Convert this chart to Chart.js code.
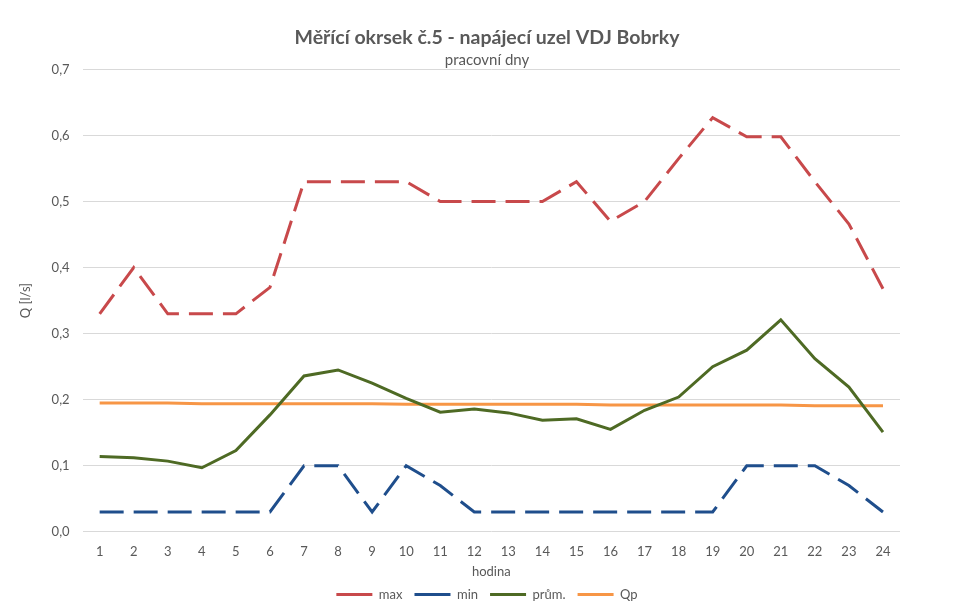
<!DOCTYPE html>
<html>
<head>
<meta charset="utf-8">
<script src="https://cdn.jsdelivr.net/npm/chart.js@4"></script>
<style>
    html, body { margin: 0; padding: 0; background: #fff; }
    #wrap { width: 960px; height: 609px; }
</style>
</head>
<body>
<div id="wrap"><canvas id="chart"></canvas></div>
<script>
(function () {
    "use strict";

    // Data
    const hours = ["1", "2", "3", "4", "5", "6", "7", "8", "9", "10", "11", "12",
        "13", "14", "15", "16", "17", "18", "19", "20", "21", "22", "23", "24"];
    const maxValues = [0.33, 0.40, 0.33, 0.33, 0.33, 0.37, 0.53, 0.53, 0.53, 0.53, 0.50, 0.50,
        0.50, 0.50, 0.53, 0.47, 0.50, 0.565, 0.627, 0.598, 0.598, 0.53, 0.466, 0.368];
    const minValues = [0.03, 0.03, 0.03, 0.03, 0.03, 0.03, 0.10, 0.10, 0.03, 0.10, 0.07, 0.03,
        0.03, 0.03, 0.03, 0.03, 0.03, 0.03, 0.03, 0.10, 0.10, 0.10, 0.07, 0.03];
    const avgValues = [0.114, 0.112, 0.107, 0.097, 0.123, 0.177, 0.236, 0.245, 0.225, 0.202, 0.181, 0.186,
        0.180, 0.169, 0.171, 0.155, 0.184, 0.204, 0.250, 0.275, 0.321, 0.262, 0.219, 0.151];
    const qpValues = [0.195, 0.195, 0.195, 0.194, 0.194, 0.194, 0.194, 0.194, 0.194, 0.193, 0.193, 0.193,
        0.193, 0.193, 0.193, 0.192, 0.192, 0.192, 0.192, 0.192, 0.192, 0.191, 0.191, 0.191];

    const textColor = "#595959";
    const font = "Lato, 'Open Sans', sans-serif";

    const line = (label, data, color, dash) => ({
        label: label,
        data: data,
        borderColor: color,
        backgroundColor: color,
        borderWidth: 3,
        borderDash: dash,
        pointRadius: 0,
        tension: 0,
        fill: false,
    });

    const ctx = document.getElementById("chart").getContext("2d");
    new Chart(ctx, {
        type: "line",
        data: {
            labels: hours,
            datasets: [
                line("max", maxValues, "#c8494b", [24, 10]),
                line("min", minValues, "#1f4e8c", [24, 10]),
                line("prům.", avgValues, "#4e6a24", []),
                line("Qp", qpValues, "#f79646", []),
            ],
        },
        options: {
            responsive: true,
            maintainAspectRatio: false,
            animation: false,
            layout: {
                padding: { top: 20, left: 14, right: 0, bottom: -2 },
            },
            plugins: {
                title: {
                    display: true,
                    text: "Měřící okrsek č.5 - napájecí uzel VDJ Bobrky",
                    color: textColor,
                    font: { family: font, size: 19.5, weight: "bold" },
                    padding: { top: 6, bottom: 2 },
                },
                subtitle: {
                    display: true,
                    text: "pracovní dny",
                    color: textColor,
                    font: { family: font, size: 15 },
                    padding: { bottom: 0 },
                },
                legend: {
                    position: "bottom",
                    labels: {
                        usePointStyle: true,
                        pointStyle: "line",
                        pointStyleWidth: 36,
                        color: textColor,
                        font: { family: font, size: 13 },
                        padding: 12,
                    },
                },
                tooltip: { enabled: false },
            },
            scales: {
                x: {
                    offset: true,
                    grid: { display: false, drawTicks: false },
                    border: { display: false },
                    ticks: {
                        color: textColor,
                        font: { family: font, size: 13 },
                        maxRotation: 0,
                        autoSkip: false,
                        padding: 12,
                    },
                    title: {
                        display: true,
                        text: "hodina",
                        color: textColor,
                        font: { family: font, size: 13 },
                        padding: { top: -7, bottom: -4 },
                    },
                },
                y: {
                    min: 0,
                    max: 0.7,
                    grid: { color: "#d9d9d9", lineWidth: 1, drawTicks: false },
                    border: { display: false },
                    ticks: {
                        stepSize: 0.1,
                        color: textColor,
                        font: { family: font, size: 13 },
                        padding: 13,
                        callback: (value) => value.toFixed(1).replace(".", ","),
                    },
                    title: {
                        display: true,
                        text: "Q [l/s]",
                        color: textColor,
                        font: { family: font, size: 13 },
                        padding: { bottom: 5 },
                    },
                },
                // empty right axis only reserves the right margin of the plot
                spacer: {
                    type: "linear",
                    position: "right",
                    grid: { display: false, drawTicks: false },
                    border: { display: false },
                    ticks: { display: false },
                    afterFit: (scale) => { scale.width = 60; },
                },
            },
        },
    });
})();
</script>
</body>
</html>
